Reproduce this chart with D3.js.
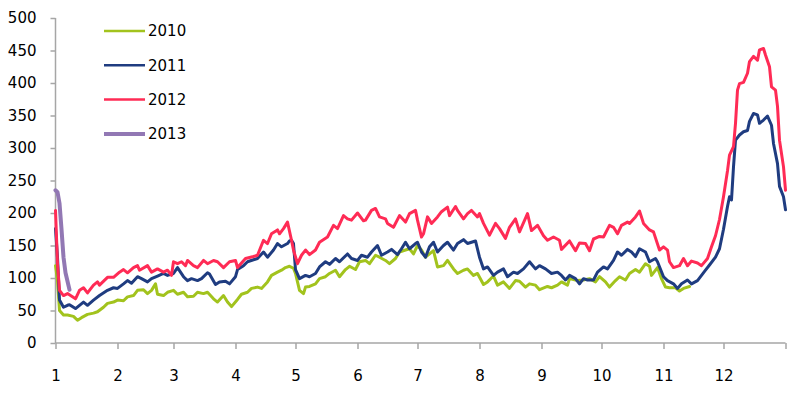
<!DOCTYPE html>
<html>
<head>
<meta charset="utf-8">
<script src="https://cdn.jsdelivr.net/npm/d3@7/dist/d3.min.js"></script>
<style>
  body { margin: 0; background: #fff; }
  svg text { font-family: "DejaVu Sans", sans-serif; font-size: 15px; fill: #000; }
  .axis path, .axis line { stroke: #a6a6a6; stroke-width: 1.5px; }
</style>
</head>
<body>
<div id="chart"></div>
<script>
// day-of-year at each month start, and the month labels
var monthStarts = [0, 31, 59, 90, 120, 151, 181, 212, 243, 273, 304, 334];
var monthLabels = ["1", "2", "3", "4", "5", "6", "7", "8", "9", "10", "11", "12"];
var yTicks = [0, 50, 100, 150, 200, 250, 300, 350, 400, 450, 500];

var seriesNames = ["2010", "2011", "2012", "2013"];
var seriesColors = ["#a2c31d", "#1f3c80", "#ff2b55", "#9278b4"];

// [day of year, value]
var data2010 = [[0,119],[1,96],[2,50],[4,43],[6,43],[9,41],[11,35],[13,39],[16,44],[19,46],[21,48],[24,55],[26,61],[29,63],[31,66],[34,65],[36,71],[39,73],[41,81],[44,82],[46,76],[48,81],[50,91],[51,75],[54,73],[56,78],[59,81],[61,75],[64,78],[66,71],[69,72],[71,78],[74,76],[76,78],[79,68],[81,63],[84,73],[86,63],[88,56],[91,67],[93,75],[96,78],[98,84],[101,86],[103,84],[106,94],[108,104],[111,109],[113,112],[115,116],[117,118],[119,115],[120,107],[122,81],[124,76],[125,86],[127,87],[130,91],[132,99],[135,102],[137,107],[140,112],[142,102],[145,113],[147,118],[150,113],[152,125],[155,127],[157,122],[160,135],[162,132],[165,127],[167,122],[170,130],[172,140],[175,143],[177,145],[179,137],[181,150],[183,143],[185,132],[187,137],[189,142],[191,117],[194,119],[196,127],[199,114],[201,107],[204,112],[206,114],[209,104],[211,107],[214,90],[216,94],[219,103],[221,89],[224,94],[227,84],[230,96],[232,95],[235,86],[237,91],[240,89],[242,82],[246,87],[248,85],[251,89],[253,94],[256,89],[257,99],[261,96],[264,97],[267,99],[270,94],[272,102],[275,94],[277,86],[280,96],[282,102],[285,97],[287,107],[290,113],[292,109],[295,122],[297,118],[298,104],[301,116],[303,99],[305,86],[307,85],[310,85],[312,80],[314,84],[317,87]];

var data2011 = [[0,176],[1,132],[2,66],[4,55],[6,58],[7,59],[10,53],[12,58],[14,63],[16,58],[19,66],[22,73],[26,81],[29,85],[31,84],[34,91],[36,96],[38,92],[41,102],[43,99],[46,94],[48,99],[51,103],[54,107],[56,104],[59,107],[61,116],[64,102],[66,96],[68,99],[71,96],[73,99],[76,108],[77,106],[80,90],[82,94],[85,95],[87,91],[90,102],[91,113],[94,119],[96,125],[99,128],[101,130],[104,140],[106,132],[109,143],[111,153],[113,148],[116,153],[117,157],[118,158],[119,153],[120,113],[122,99],[125,104],[127,102],[130,107],[132,117],[135,125],[137,121],[140,130],[142,125],[146,137],[148,130],[151,127],[153,135],[156,132],[158,140],[161,150],[163,135],[166,140],[168,144],[171,136],[173,145],[175,155],[177,145],[180,153],[181,155],[183,140],[185,132],[187,148],[189,155],[191,140],[194,150],[196,155],[199,143],[201,153],[204,159],[206,153],[208,155],[210,157],[212,132],[214,114],[216,117],[219,104],[221,109],[224,114],[226,102],[229,109],[231,107],[234,114],[237,125],[240,114],[242,119],[245,114],[248,107],[251,109],[253,104],[255,97],[257,104],[260,99],[262,91],[264,99],[266,97],[269,97],[271,109],[274,117],[276,114],[279,127],[281,140],[283,135],[286,144],[288,140],[290,133],[292,145],[295,140],[297,125],[300,130],[301,125],[304,102],[306,96],[309,91],[311,84],[313,91],[316,97],[318,91],[321,96],[323,104],[325,112],[327,120],[330,132],[332,145],[334,175],[336,210],[337,225],[338,220],[339,271],[340,312],[342,320],[344,325],[346,327],[347,341],[349,353],[351,351],[352,338],[354,343],[356,349],[358,335],[359,307],[361,276],[362,241],[364,225],[365,205]];

var data2012 = [[0,204],[1,122],[2,81],[4,73],[6,76],[10,68],[12,81],[14,85],[16,77],[19,89],[21,94],[22,89],[26,101],[29,101],[32,109],[34,113],[36,108],[39,116],[41,119],[42,112],[46,119],[48,109],[51,114],[54,109],[56,112],[58,104],[59,125],[61,122],[63,125],[65,119],[66,127],[69,119],[71,116],[74,127],[76,122],[79,127],[81,125],[84,116],[87,125],[90,127],[91,116],[95,130],[99,133],[101,135],[104,158],[106,153],[108,168],[111,174],[112,168],[114,176],[116,186],[118,158],[119,143],[121,122],[123,135],[125,143],[127,136],[130,143],[132,155],[136,163],[139,181],[141,176],[144,196],[146,191],[148,189],[151,200],[154,188],[155,189],[158,204],[160,207],[162,194],[165,191],[166,184],[169,178],[172,196],[175,186],[177,199],[180,204],[181,189],[183,163],[184,168],[186,194],[188,184],[191,194],[193,202],[196,209],[197,196],[200,210],[201,204],[204,191],[206,199],[208,204],[211,194],[212,199],[214,184],[217,166],[220,184],[222,176],[225,161],[227,178],[230,191],[232,171],[236,199],[238,173],[241,181],[244,165],[246,158],[249,163],[252,158],[253,144],[257,157],[260,142],[262,154],[265,153],[267,142],[269,160],[272,164],[274,163],[277,181],[279,178],[281,168],[283,181],[286,186],[287,184],[290,194],[292,203],[294,184],[297,174],[299,171],[302,143],[304,148],[306,143],[307,125],[309,116],[312,119],[314,130],[316,119],[318,126],[321,123],[323,119],[326,130],[328,148],[330,165],[332,190],[334,225],[336,265],[337,289],[339,302],[340,338],[341,389],[342,399],[344,401],[346,415],[347,433],[349,441],[351,435],[352,451],[354,453],[355,443],[357,425],[358,394],[360,389],[361,364],[362,312],[364,271],[365,235]];

var data2013 = [[0,235],[1,232],[2,215],[3,175],[4,132],[5,108],[6,95],[7,82]];

var allSeries = [data2010, data2011, data2012, data2013];
var lineWidths = [3, 3, 3, 4];

var svgWidth = 802;
var svgHeight = 395;

var svg = d3.select("#chart")
  .append("svg")
  .attr("width", svgWidth)
  .attr("height", svgHeight);

var xScale = d3.scaleLinear()
  .domain([0, 365])
  .range([55.5, 785.5]);

var yScale = d3.scaleLinear()
  .domain([0, 500])
  .range([343, 18]);

// axes
var bottomAxis = d3.axisBottom(xScale)
  .tickValues(monthStarts.concat([365]))
  .tickSize(6)
  .tickPadding(21)
  .tickFormat(function(d) {
    var i = monthStarts.indexOf(d);
    return i >= 0 ? monthLabels[i] : "";
  });

var leftAxis = d3.axisLeft(yScale)
  .tickValues(yTicks)
  .tickSize(5)
  .tickPadding(14)
  .tickFormat(d3.format("d"));

svg.append("g")
  .attr("class", "axis")
  .attr("transform", "translate(0, 343)")
  .call(bottomAxis)
  .call(g => g.select(".domain").attr("d", "M55.5,0H785.5"));

svg.append("g")
  .attr("class", "axis")
  .attr("transform", "translate(55.5, 0)")
  .call(leftAxis)
  .call(g => g.select(".domain").attr("d", "M0,18V343"));

// lines
var line = d3.line()
  .x(d => xScale(d[0]))
  .y(d => yScale(d[1]));

allSeries.forEach(function(s, i) {
  svg.append("path")
    .datum(s)
    .attr("fill", "none")
    .attr("stroke", seriesColors[i])
    .attr("stroke-width", lineWidths[i])
    .attr("stroke-linejoin", "round")
    .attr("stroke-linecap", "round")
    .attr("d", line);
});

// legend
var legend = svg.append("g").attr("transform", "translate(104, 31)");
seriesNames.forEach(function(name, i) {
  var g = legend.append("g").attr("transform", `translate(0, ${i * 34.3})`);
  g.append("line")
    .attr("x1", 0).attr("x2", 41)
    .attr("y1", 0).attr("y2", 0)
    .attr("stroke", seriesColors[i])
    .attr("stroke-width", i === 3 ? 4 : 2.5);
  g.append("text")
    .attr("x", 44)
    .attr("y", 0)
    .attr("dy", "0.36em")
    .text(name);
});
</script>
</body>
</html>
